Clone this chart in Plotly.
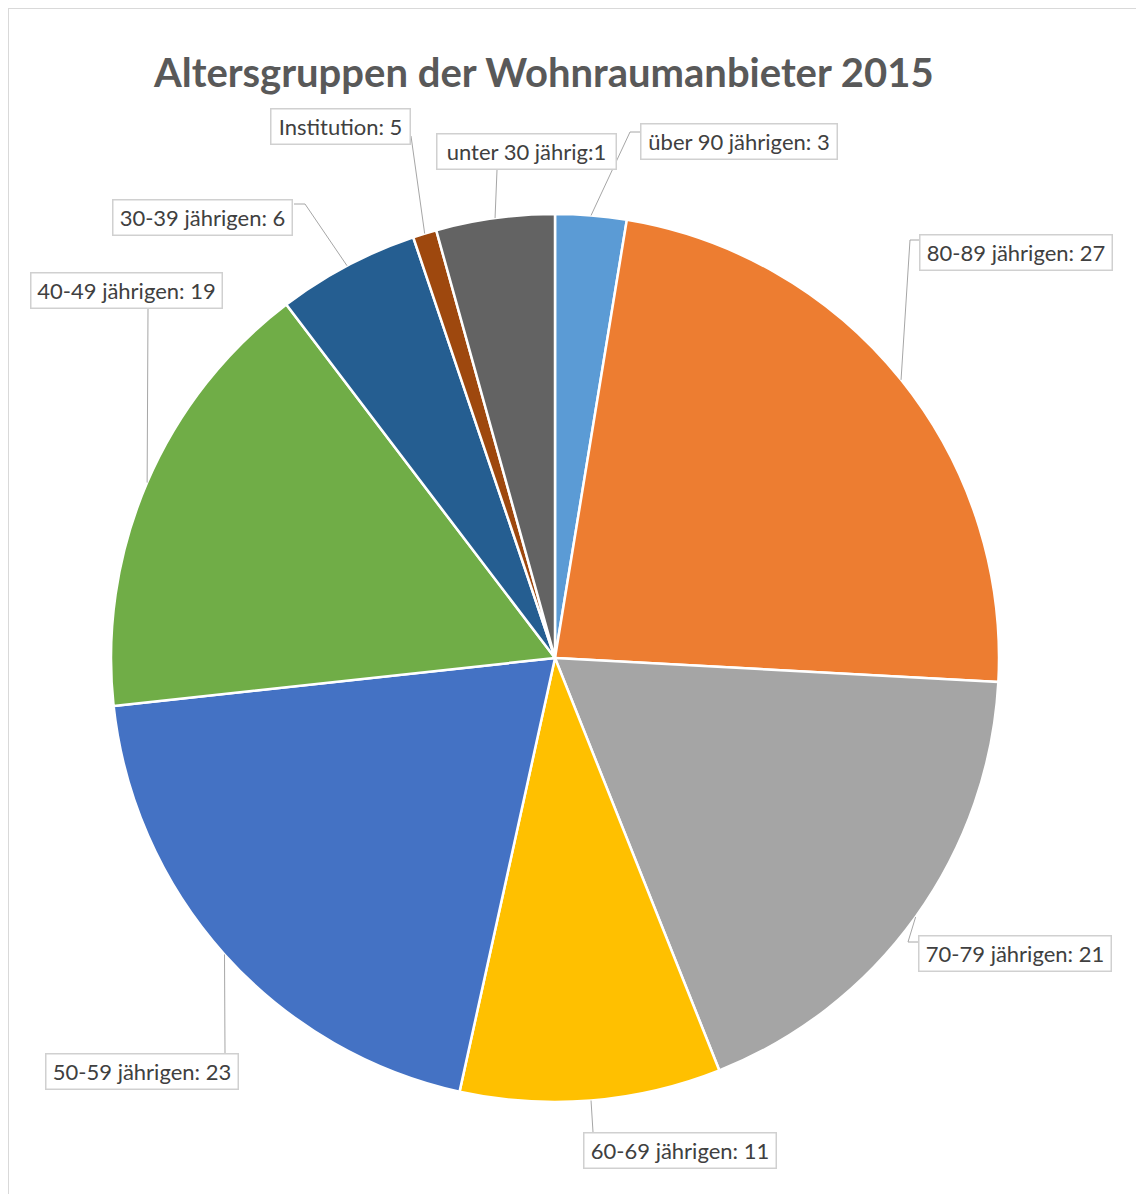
import math
import plotly.graph_objects as go

W, H = 1144, 1194
OFF = 8  # browser body margin

# Data (clockwise from 12 o'clock)
categories = ["über 90", "80-89", "70-79", "60-69", "50-59", "40-49", "30-39", "Institution", "unter 30"]
values = [3, 27, 21, 11, 23, 19, 6, 1, 5]
label_texts = ["über 90 jährigen: 3", "80-89 jährigen: 27", "70-79 jährigen: 21",
               "60-69 jährigen: 11", "50-59 jährigen: 23", "40-49 jährigen: 19",
               "30-39 jährigen: 6", "Institution: 5", "unter 30 jährig:1"]
colors = ["#5B9BD5", "#ED7D31", "#A5A5A5", "#FFC000", "#4472C4", "#70AD47",
          "#255E91", "#9E480E", "#636363"]

# Layout (pixels in the screenshot)
CX, CY, R = 555, 658, 444
# label box centre, box width, leader path from slice edge to box
label_layout = [
    ((739, 142), 198, [(630, 132), (640, 132)]),
    ((1016, 253), 194, [(910, 240), (919, 240)]),
    ((1015, 954), 194, [(908, 942), (918, 942)]),
    ((680, 1150), 194, [(593, 1132)]),
    ((142, 1071), 194, [(225, 1053)]),
    ((126, 291), 193, [(148, 309)]),
    ((203, 218), 181, [(305, 204), (294, 204)]),
    ((340, 127), 141, [(411, 136)]),
    ((526, 152), 181, [(497, 170)]),
]


def px(x):
    return (x - OFF) / W


def py(y):
    return 1 - (y - OFF) / H


fig = go.Figure()
fig.add_trace(go.Pie(
    labels=categories, values=values, sort=False, direction="clockwise", rotation=0,
    marker=dict(colors=colors, line=dict(color="white", width=2.5)),
    textinfo="none", hoverinfo="label+value", showlegend=False,
    domain=dict(x=[px(CX - R), px(CX + R)], y=[py(CY + R), py(CY - R)]),
))

shapes = []
annotations = []
total = sum(values)
cum = 0
for v, txt, (centre, bw, path) in zip(values, label_texts, label_layout):
    mid = (cum + v / 2) / total * 2 * math.pi
    cum += v
    ex, ey = CX + R * math.sin(mid), CY - R * math.cos(mid)
    pts = [(ex, ey)] + path
    d = "M {} {}".format(px(pts[0][0]), py(pts[0][1]))
    for (x, y) in pts[1:]:
        d += " L {} {}".format(px(x), py(y))
    shapes.append(dict(type="path", xref="paper", yref="paper", path=d,
                       line=dict(color="#A6A6A6", width=1)))
    annotations.append(dict(
        x=px(centre[0]), y=py(centre[1]), xref="paper", yref="paper",
        text=txt, showarrow=False, xanchor="center", yanchor="middle",
        font=dict(family="Lato", size=22, color="#404040"),
        bgcolor="white", bordercolor="#D0D0D0", borderwidth=1.5, borderpad=4,
        width=bw - 11, height=26,
    ))

# Chart border (top and left visible)
shapes.append(dict(type="line", xref="paper", yref="paper", x0=px(8), x1=px(W + 20),
                   y0=py(8), y1=py(8), line=dict(color="#D9D9D9", width=2)))
shapes.append(dict(type="line", xref="paper", yref="paper", x0=px(8), x1=px(8),
                   y0=py(8), y1=py(H + 20), line=dict(color="#D9D9D9", width=2)))

annotations.append(dict(
    x=px(543), y=py(72), xref="paper", yref="paper", showarrow=False,
    text="<b>Altersgruppen der Wohnraumanbieter 2015</b>",
    xanchor="center", yanchor="middle",
    font=dict(family="Lato", size=40, color="#595959"),
))

fig.update_layout(
    width=W, height=H, margin=dict(l=0, r=0, t=0, b=0),
    paper_bgcolor="white", plot_bgcolor="white",
    shapes=shapes, annotations=annotations,
)

fig.write_html("out.html")
